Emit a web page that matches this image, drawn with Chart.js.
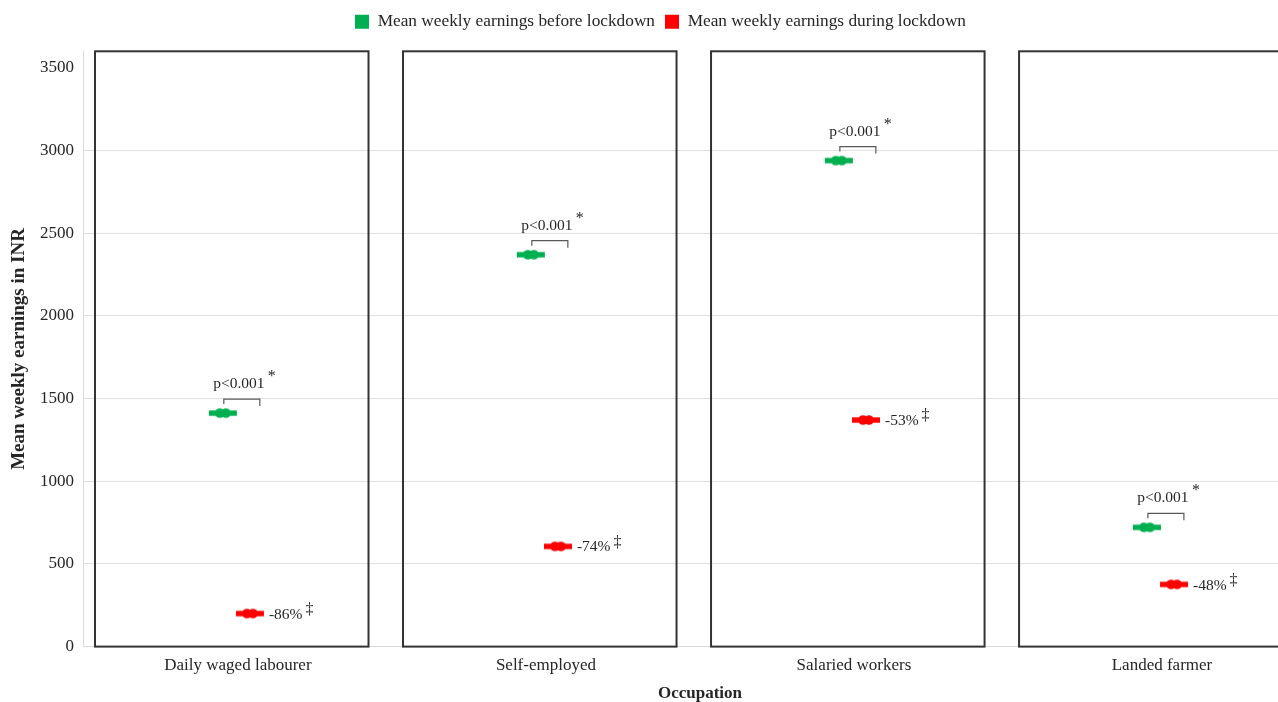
<!DOCTYPE html>
<html>
<head>
<meta charset="utf-8">
<script src="https://cdn.jsdelivr.net/npm/chart.js@4"></script>
<style>
  html, body { margin: 0; padding: 0; background: #fff; overflow: hidden; }
  #wrap { width: 1278px; height: 702px; overflow: hidden; }
  canvas { display: block; }
</style>
</head>
<body>
<div id="wrap"><canvas id="chart" width="1332" height="702"></canvas></div>
<script>
// Mean weekly earnings (INR) by occupation, before and during lockdown
const occupations = ['Daily waged labourer', 'Self-employed', 'Salaried workers', 'Landed farmer'];
const beforeLockdown = [1412, 2370, 2939, 721];
const duringLockdown = [200, 606, 1370, 376];
const pValues = ['p<0.001', 'p<0.001', 'p<0.001', 'p<0.001'];
const yTickValues = [0, 500, 1000, 1500, 2000, 2500, 3000, 3500];

const SERIF = '"Liberation Serif", "Times New Roman", serif';
const TEXT = '#262626';
const GREEN = '#00B050';
const RED = '#FF0000';

// horizontal placement inside each occupation slot (in x-scale units)
const GREEN_OFFSET = 0.451;
const RED_OFFSET = 0.539;
const PANEL_LEFT = 0.036;
const PANEL_RIGHT = 0.924;

// marker: thick dash with a double bead in the middle
function markerImage(color) {
  const c = document.createElement('canvas');
  c.width = 30; c.height = 12;
  const g = c.getContext('2d');
  g.fillStyle = color;
  g.fillRect(1, 3.3, 28, 5.4);
  g.beginPath(); g.arc(12, 6, 4.8, 0, Math.PI * 2); g.fill();
  g.beginPath(); g.arc(18, 6, 4.8, 0, Math.PI * 2); g.fill();
  return c;
}

// extra room between the legend row and the plot
const legendSpacing = {
  id: 'legendSpacing',
  beforeUpdate(chart) {
    const legend = chart.legend;
    if (legend && !legend.__spaced) {
      const fit = legend.fit;
      legend.fit = function () { fit.call(this); this.height += 11; };
      legend.__spaced = true;
    }
  }
};

// white panels framing each occupation group
const panels = {
  id: 'panels',
  beforeDatasetsDraw(chart) {
    const { ctx, chartArea, scales: { x, y } } = chart;
    ctx.save();
    ctx.strokeStyle = '#333333';
    ctx.lineWidth = 2;
    occupations.forEach((_, i) => {
      const l = x.getPixelForValue(i + PANEL_LEFT);
      const r = x.getPixelForValue(i + PANEL_RIGHT);
      const b = y.getPixelForValue(0);
      ctx.strokeRect(l, chartArea.top, r - l, b - chartArea.top);
    });
    ctx.restore();
  }
};

// significance brackets and percentage change labels
const annotations = {
  id: 'annotations',
  afterDatasetsDraw(chart) {
    const { ctx, scales: { x, y } } = chart;
    ctx.save();
    occupations.forEach((_, i) => {
      const gx = x.getPixelForValue(i + GREEN_OFFSET);
      const gy = y.getPixelForValue(beforeLockdown[i]);
      const rx = x.getPixelForValue(i + RED_OFFSET);
      const ry = y.getPixelForValue(duringLockdown[i]);

      ctx.strokeStyle = '#595959';
      ctx.lineWidth = 1.2;
      ctx.beginPath();
      ctx.moveTo(gx + 1, gy - 9);
      ctx.lineTo(gx + 1, gy - 14);
      ctx.lineTo(gx + 37, gy - 14);
      ctx.lineTo(gx + 37, gy - 7);
      ctx.stroke();

      ctx.fillStyle = TEXT;
      ctx.font = '15.5px ' + SERIF;
      ctx.textAlign = 'center';
      ctx.textBaseline = 'middle';
      ctx.fillText(pValues[i], gx + 16, gy - 29);

      ctx.font = '16px ' + SERIF;
      ctx.textAlign = 'center';
      ctx.textBaseline = 'alphabetic';
      ctx.fillText('*', gx + 49, gy - 32);

      const pct = Math.round((duringLockdown[i] - beforeLockdown[i]) / beforeLockdown[i] * 100);
      const label = pct + '%';
      ctx.font = '15.5px ' + SERIF;
      ctx.textAlign = 'left';
      ctx.textBaseline = 'middle';
      ctx.fillText(label, rx + 19, ry + 1);
      const w = ctx.measureText(label).width;
      ctx.font = '16px ' + SERIF;
      ctx.fillText('\u2021', rx + 22 + w, ry - 4);
    });
    ctx.restore();
  }
};

new Chart(document.getElementById('chart'), {
  type: 'line',
  data: {
    datasets: [
      {
        label: 'Mean weekly earnings before lockdown',
        data: beforeLockdown.map((v, i) => ({ x: i + GREEN_OFFSET, y: v })),
        showLine: false,
        backgroundColor: GREEN,
        borderColor: GREEN,
        borderWidth: 0,
        pointStyle: markerImage(GREEN),
        pointRadius: 10
      },
      {
        label: 'Mean weekly earnings during lockdown',
        data: duringLockdown.map((v, i) => ({ x: i + RED_OFFSET, y: v })),
        showLine: false,
        backgroundColor: RED,
        borderColor: RED,
        borderWidth: 0,
        pointStyle: markerImage(RED),
        pointRadius: 10
      }
    ]
  },
  options: {
    responsive: false,
    animation: false,
    layout: { padding: { left: 5, right: 16, top: 3, bottom: 0 } },
    plugins: {
      legend: {
        position: 'top',
        labels: {
          font: { family: SERIF, size: 17.3 },
          color: TEXT,
          boxWidth: 14,
          boxHeight: 14,
          padding: 10
        }
      },
      tooltip: { enabled: false }
    },
    scales: {
      x: {
        type: 'linear',
        min: 0,
        max: 4,
        grid: { display: false, drawTicks: false },
        border: { color: '#d9d9d9' },
        afterBuildTicks: (scale) => {
          scale.ticks = occupations.map((_, i) => ({ value: i + 0.5 }));
        },
        ticks: {
          autoSkip: false,
          maxRotation: 0,
          padding: 9,
          color: TEXT,
          font: { family: SERIF, size: 17 },
          callback: (value, index) => occupations[index]
        },
        title: {
          display: true,
          text: 'Occupation',
          color: TEXT,
          font: { family: SERIF, size: 17, weight: 'bold', lineHeight: 1 },
          padding: { top: 0, bottom: 0 }
        }
      },
      y: {
        min: 0,
        max: 3600,
        afterBuildTicks: (scale) => {
          scale.ticks = yTickValues.map(v => ({ value: v }));
        },
        grid: {
          drawTicks: false,
          color: (ctx) => (ctx.tick && ctx.tick.value === 3500) ? 'rgba(0,0,0,0)' : '#e0e0e0'
        },
        border: { color: '#d9d9d9' },
        ticks: {
          padding: 10,
          color: TEXT,
          font: { family: SERIF, size: 17 },
          callback: (value) => String(value)
        },
        title: {
          display: true,
          text: 'Mean weekly earnings in INR',
          color: TEXT,
          font: { family: SERIF, size: 19, weight: 'bold', lineHeight: 1.1 },
          padding: { top: 4, bottom: 0 }
        }
      }
    }
  },
  plugins: [legendSpacing, panels, annotations]
});
</script>
</body>
</html>
